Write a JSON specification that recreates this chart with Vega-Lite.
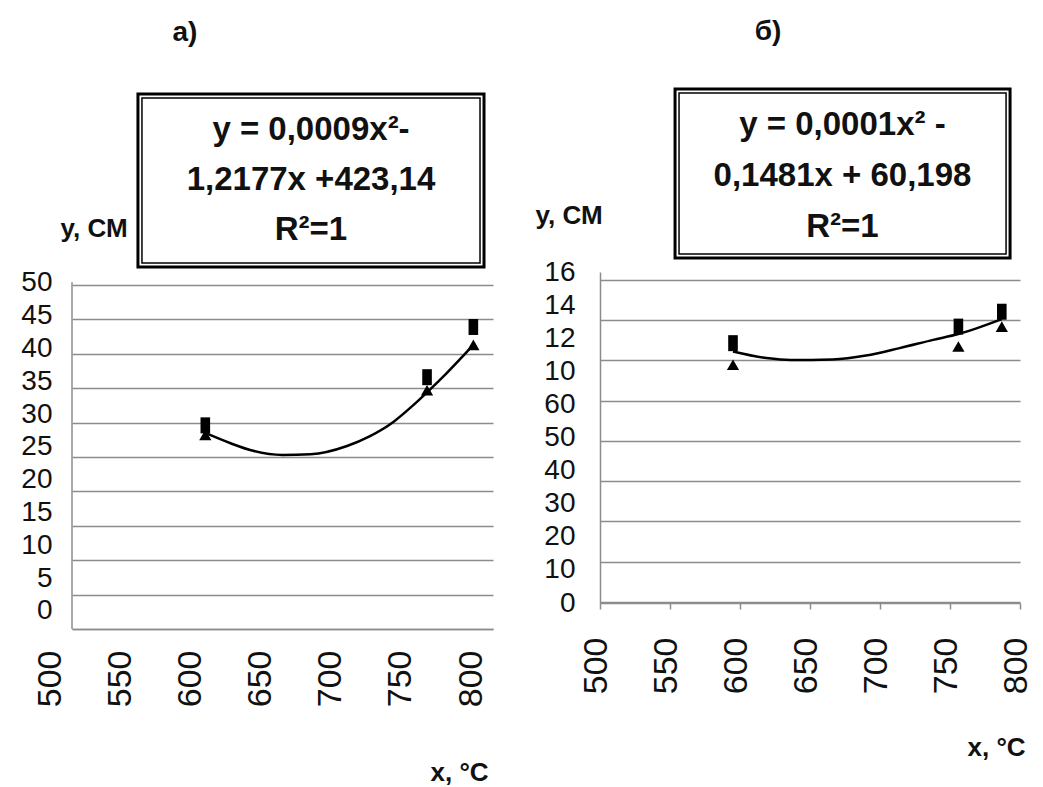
{
  "$schema": "https://vega.github.io/schema/vega-lite/v6.json",
  "background": "white",
  "padding": {"left": 20, "top": 18, "right": 0, "bottom": 0},
  "config": {
    "view": {"stroke": null},
    "font": "Liberation Sans",
    "axis": {"labelFont": "Liberation Sans", "titleFont": "Liberation Sans", "labelColor": "#111", "titleColor": "#111", "labelOverlap": false, "labelFlush": false}
  },
  "datasets": {
    "eqA": [{"label": ["y = 0,0009x²-", "1,2177x +423,14", "R²=1"], "panel": "а)"}],
    "eqB": [{"label": ["y = 0,0001x² -", "0,1481x + 60,198", "R²=1"], "panel": "б)"}],
    "pointsA": [
      {"x": 595, "y": 28.2, "marker": "triangle"},
      {"x": 753, "y": 34.7, "marker": "triangle"},
      {"x": 786, "y": 41.3, "marker": "triangle"},
      {"x": 595, "y": 29.6, "marker": "square"},
      {"x": 753, "y": 36.6, "marker": "square"},
      {"x": 786, "y": 43.9, "marker": "square"}
    ],
    "curveA": [
      {"x": 595, "y": 28.5},
      {"x": 613, "y": 27.0},
      {"x": 629, "y": 25.9},
      {"x": 650, "y": 25.3},
      {"x": 670, "y": 25.4},
      {"x": 696, "y": 26.6},
      {"x": 712, "y": 28.0},
      {"x": 729, "y": 30.1},
      {"x": 743, "y": 32.5},
      {"x": 753, "y": 34.4},
      {"x": 767, "y": 37.2},
      {"x": 786, "y": 41.3}
    ],
    "pointsB": [
      {"x": 595, "y": 10.4, "marker": "triangle"},
      {"x": 756, "y": 11.5, "marker": "triangle"},
      {"x": 787, "y": 12.7, "marker": "triangle"},
      {"x": 595, "y": 11.7, "marker": "square"},
      {"x": 756, "y": 12.7, "marker": "square"},
      {"x": 787, "y": 13.6, "marker": "square"}
    ],
    "curveB": [
      {"x": 595, "y": 11.2},
      {"x": 619, "y": 10.8},
      {"x": 636, "y": 10.68},
      {"x": 666, "y": 10.72},
      {"x": 690, "y": 10.95},
      {"x": 714, "y": 11.4},
      {"x": 738, "y": 11.9},
      {"x": 756, "y": 12.25},
      {"x": 787, "y": 13.15}
    ]
  },
  "bounds": "flush",
  "spacing": 107,
  "hconcat": [
    {
      "width": 421, "height": 357,
      "resolve": {"axis": {"y": "independent"}},
      "layer": [
        {
          "data": {"name": "curveA"},
          "mark": {"type": "line", "color": "black", "strokeWidth": 2.5, "interpolate": "monotone"},
          "encoding": {
            "x": {"field": "x", "type": "quantitative", "scale": {"domain": [500, 800], "nice": false, "zero": false},
              "axis": {"values": [500, 550, 600, 650, 700, 750, 800], "labelAngle": 270, "labelOffset": -22, "labelPadding": 21, "ticks": false, "tickSize": 0, "grid": false, "domain": true, "domainColor": "#8c8c8c", "domainWidth": 1.5, "labelFontSize": 34,
                "title": "x, °C", "titleFontSize": 26, "titleFontWeight": "bold", "titleAlign": "left", "titleBaseline": "middle", "titleX": 358, "titleY": 143}},
            "y": {"field": "y", "type": "quantitative", "scale": {"domain": [0, 51.89], "nice": false},
              "axis": {"orient": "left", "values": [0, 5, 10, 15, 20, 25, 30, 35, 40, 45, 50], "grid": true, "gridColor": "#8c8c8c", "gridWidth": 1.5, "labels": false, "ticks": false, "tickSize": 0, "domain": false, "title": null}}
          }
        },
        {
          "data": {"name": "eqA"},
          "mark": {"type": "rule", "color": "#8c8c8c", "strokeWidth": 1.5},
          "encoding": {
            "x": {"datum": 500, "type": "quantitative"},
            "y": {"datum": 0, "type": "quantitative", "axis": null},
            "y2": {"datum": 50.4}
          }
        },
        {
          "data": {"name": "pointsA"},
          "mark": {"type": "point", "filled": true, "color": "black", "opacity": 1},
          "encoding": {
            "x": {"field": "x", "type": "quantitative"},
            "y": {"field": "y", "type": "quantitative",
              "axis": {"orient": "left", "values": [2.62, 7.39, 12.16, 16.93, 21.7, 26.47, 31.24, 36.01, 40.78, 45.55, 50.32], "labelExpr": "format(round((datum.value - 2.62) / 4.77) * 5, 'd')", "grid": false, "ticks": false, "tickSize": 0, "domain": false, "labelFontSize": 28, "labelPadding": 20,
                "title": "y, СМ", "titleAngle": 0, "titleAlign": "left", "titleBaseline": "middle", "titleX": -12, "titleY": -44, "titleFontSize": 26, "titleFontWeight": "bold"}},
            "shape": {"field": "marker", "type": "nominal", "scale": {"domain": ["square", "triangle"], "range": ["M-0.6,-1L0.6,-1L0.6,1L-0.6,1Z", "triangle-up"]}, "legend": null},
            "size": {"field": "marker", "type": "ordinal", "scale": {"domain": ["square", "triangle"], "range": [256, 150]}, "legend": null}
          }
        },
        {
          "data": {"name": "eqA"},
          "mark": {"type": "rect", "filled": false, "stroke": "black", "strokeWidth": 3},
          "encoding": {
            "x": {"datum": 547.0, "type": "quantitative"},
            "x2": {"datum": 793.6},
            "y": {"datum": 77.76, "type": "quantitative", "axis": null},
            "y2": {"datum": 52.62}
          }
        },
        {
          "data": {"name": "eqA"},
          "mark": {"type": "rect", "filled": false, "stroke": "black", "strokeWidth": 1.5, "xOffset": 4, "x2Offset": -4, "yOffset": 4, "y2Offset": -4},
          "encoding": {
            "x": {"datum": 547.0, "type": "quantitative"},
            "x2": {"datum": 793.6},
            "y": {"datum": 77.76, "type": "quantitative", "axis": null},
            "y2": {"datum": 52.62}
          }
        },
        {
          "data": {"name": "eqA"},
          "mark": {"type": "text", "fontSize": 33, "fontWeight": "bold", "lineHeight": 50, "baseline": "middle", "align": "center", "color": "#111"},
          "encoding": {
            "x": {"datum": 670.3, "type": "quantitative"},
            "y": {"datum": 72.53, "type": "quantitative", "axis": null},
            "text": {"field": "label"}
          }
        },
        {
          "data": {"name": "eqA"},
          "mark": {"type": "text", "fontSize": 28, "fontWeight": "bold", "baseline": "middle", "align": "center", "color": "#111"},
          "encoding": {
            "x": {"datum": 580.5, "type": "quantitative"},
            "y": {"datum": 86.6, "type": "quantitative", "axis": null},
            "text": {"field": "panel"}
          }
        }
      ]
    },
    {
      "width": 420, "height": 331,
      "resolve": {"axis": {"y": "independent"}},
      "layer": [
        {
          "data": {"name": "curveB"},
          "mark": {"type": "line", "color": "black", "strokeWidth": 2.5, "interpolate": "monotone"},
          "encoding": {
            "x": {"field": "x", "type": "quantitative", "scale": {"domain": [500, 800], "nice": false, "zero": false},
              "axis": {"values": [500, 550, 600, 650, 700, 750, 800], "labelAngle": 270, "labelOffset": -4, "labelPadding": 28, "ticks": true, "tickSize": 6, "tickColor": "#8c8c8c", "tickWidth": 1.5, "grid": false, "domain": true, "domainColor": "#8c8c8c", "domainWidth": 1.5, "labelFontSize": 34,
                "title": "x, °C", "titleFontSize": 26, "titleFontWeight": "bold", "titleAlign": "left", "titleBaseline": "middle", "titleX": 367, "titleY": 144}},
            "y": {"field": "y", "type": "quantitative", "scale": {"domain": [-4, 16], "nice": false, "zero": false},
              "axis": {"orient": "left", "values": [-3.94, -1.5075, 0.925, 3.3575, 5.79, 8.2225, 10.655, 13.0875, 15.52], "grid": true, "gridColor": "#8c8c8c", "gridWidth": 1.5, "labels": false, "ticks": false, "tickSize": 0, "domain": true, "domainColor": "#8c8c8c", "domainWidth": 1.5, "title": null}}
          }
        },
        {
          "data": {"name": "pointsB"},
          "mark": {"type": "point", "filled": true, "color": "black", "opacity": 1},
          "encoding": {
            "x": {"field": "x", "type": "quantitative"},
            "y": {"field": "y", "type": "quantitative",
              "axis": {"orient": "left", "values": [-4, -2, 0, 2, 4, 6, 8, 10, 12, 14, 16], "labelExpr": "datum.value >= 10 ? format(datum.value, 'd') : format((datum.value + 4) * 5, 'd')", "grid": false, "ticks": false, "tickSize": 0, "domain": false, "labelFontSize": 28, "labelPadding": 25,
                "title": "y, СМ", "titleAngle": 0, "titleAlign": "left", "titleBaseline": "middle", "titleX": -65, "titleY": -57, "titleFontSize": 26, "titleFontWeight": "bold"}},
            "shape": {"field": "marker", "type": "nominal", "scale": {"domain": ["square", "triangle"], "range": ["M-0.6,-1L0.6,-1L0.6,1L-0.6,1Z", "triangle-up"]}, "legend": null},
            "size": {"field": "marker", "type": "ordinal", "scale": {"domain": ["square", "triangle"], "range": [256, 150]}, "legend": null}
          }
        },
        {
          "data": {"name": "eqB"},
          "mark": {"type": "rect", "filled": false, "stroke": "black", "strokeWidth": 3},
          "encoding": {
            "x": {"datum": 553.6, "type": "quantitative"},
            "x2": {"datum": 792.9},
            "y": {"datum": 27.06, "type": "quantitative", "axis": null},
            "y2": {"datum": 16.85}
          }
        },
        {
          "data": {"name": "eqB"},
          "mark": {"type": "rect", "filled": false, "stroke": "black", "strokeWidth": 1.5, "xOffset": 4, "x2Offset": -4, "yOffset": 4, "y2Offset": -4},
          "encoding": {
            "x": {"datum": 553.6, "type": "quantitative"},
            "x2": {"datum": 792.9},
            "y": {"datum": 27.06, "type": "quantitative", "axis": null},
            "y2": {"datum": 16.85}
          }
        },
        {
          "data": {"name": "eqB"},
          "mark": {"type": "text", "fontSize": 33, "fontWeight": "bold", "lineHeight": 51, "baseline": "middle", "align": "center", "color": "#111"},
          "encoding": {
            "x": {"datum": 673.2, "type": "quantitative"},
            "y": {"datum": 24.88, "type": "quantitative", "axis": null},
            "text": {"field": "label"}
          }
        },
        {
          "data": {"name": "eqB"},
          "mark": {"type": "text", "fontSize": 28, "fontWeight": "bold", "baseline": "middle", "align": "center", "color": "#111"},
          "encoding": {
            "x": {"datum": 620, "type": "quantitative"},
            "y": {"datum": 30.5, "type": "quantitative", "axis": null},
            "text": {"field": "panel"}
          }
        }
      ]
    }
  ]
}
